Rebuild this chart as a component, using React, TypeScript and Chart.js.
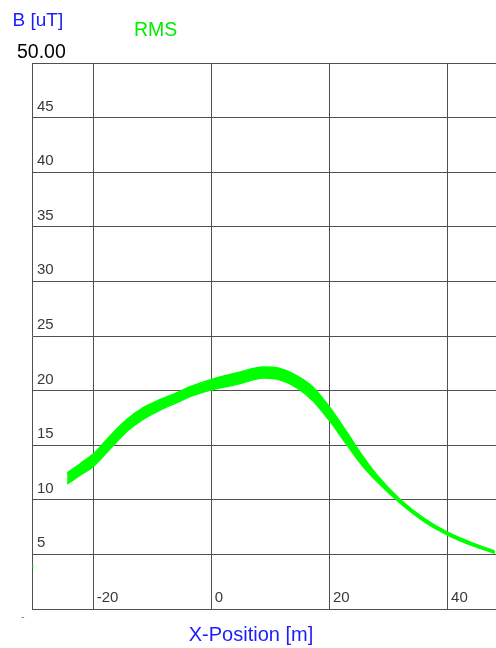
import React, { useEffect, useRef } from 'react';
import { Chart, registerables } from 'chart.js';

Chart.register(...registerables);

// X positions [m] sampled along the RMS band
const X_POS = [-24.4, -22.2, -20, -17.15, -14.3, -11.5, -8.6, -5.8, -3.6, -0.2, 4.4, 8.9, 11.6, 14.5, 17.2, 20.1, 22.9, 25.7, 28.0, 31.9, 35.9, 40.0, 44.3, 48.0];
// Upper and lower edge of the RMS band [uT]
const RMS_UPPER = [12.45, 13.3, 14.18, 15.85, 17.35, 18.43, 19.18, 19.8, 20.35, 20.98, 21.63, 22.15, 22.03, 21.35, 20.33, 18.43, 16.23, 13.95, 12.3, 10.08, 8.35, 7.03, 6.03, 5.3];
const RMS_LOWER = [11.45, 12.25, 13.03, 14.65, 16.25, 17.38, 18.23, 18.9, 19.45, 20.03, 20.58, 21.15, 20.98, 20.25, 19.08, 17.18, 15.08, 13.05, 11.7, 9.73, 8.05, 6.78, 5.78, 5.1];
// A lone stray sample at the left edge
const STRAY_X = [-30.3];
const STRAY_Y = [3.9];

const X_TICKS = [-20, 0, 20, 40];
const Y_TICKS = [0, 5, 10, 15, 20, 25, 30, 35, 40, 45, 50];
const Y_LABELS = [5, 10, 15, 20, 25, 30, 35, 40, 45];

const X_MIN = -30.35;
const X_MAX = 48.2;
const Y_MIN = 0;
const Y_MAX = 50;

const FONT = '"Liberation Sans", Arial, sans-serif';

const textPlugin = {
  id: 'textPlugin',
  afterDraw(chart: any) {
    const ctx = chart.ctx;
    const area = chart.chartArea;
    const xs = chart.scales.x;
    const ys = chart.scales.y;
    ctx.save();
    ctx.textBaseline = 'alphabetic';
    ctx.textAlign = 'left';
    ctx.fillStyle = '#3a3a3a';
    ctx.font = '15px ' + FONT;
    ys.ticks.forEach((t: any) => {
      if (Y_LABELS.includes(t.value)) {
        ctx.fillText(String(t.value), area.left + 5, ys.getPixelForValue(t.value) - 7);
      }
    });
    xs.ticks.forEach((t: any) => {
      ctx.fillText(String(t.value), xs.getPixelForValue(t.value) + 3.5, area.bottom - 7);
    });
    // small dash below the axis
    ctx.fillStyle = '#777';
    ctx.font = '11px ' + FONT;
    ctx.fillText('-', area.left - 11, area.bottom + 11);

    ctx.fillStyle = '#000';
    ctx.font = '19.5px ' + FONT;
    ctx.fillText('50.00', 17, 57.5);

    ctx.fillStyle = '#1c1cff';
    ctx.font = '19px ' + FONT;
    ctx.fillText('B [uT]', 12.5, 26);

    ctx.fillStyle = '#00ee00';
    ctx.font = '19.5px ' + FONT;
    ctx.fillText('RMS', 134, 36);

    ctx.fillStyle = '#1c1cff';
    ctx.font = '20px ' + FONT;
    ctx.textAlign = 'center';
    ctx.fillText('X-Position [m]', 251, 641);
    ctx.restore();
  },
};

export default function App() {
  const canvasRef = useRef<HTMLCanvasElement | null>(null);

  useEffect(() => {
    const canvas = canvasRef.current;
    if (!canvas) return;
    const green = '#00ff00';
    const chart = new Chart(canvas, {
      type: 'line',
      data: {
        datasets: [
          {
            data: X_POS.map((x, i) => ({ x, y: RMS_UPPER[i] })),
            borderColor: green,
            backgroundColor: green,
            borderWidth: 1.5,
            pointRadius: 0,
            fill: false,
            cubicInterpolationMode: 'monotone',
          },
          {
            data: X_POS.map((x, i) => ({ x, y: RMS_LOWER[i] })),
            borderColor: green,
            backgroundColor: green,
            borderWidth: 1.5,
            pointRadius: 0,
            fill: '-1',
            cubicInterpolationMode: 'monotone',
          },
          {
            data: STRAY_X.map((x, i) => ({ x, y: STRAY_Y[i] })),
            showLine: false,
            pointRadius: 1.2,
            pointBorderWidth: 0,
            backgroundColor: '#00d000',
            borderColor: '#00d000',
            fill: false,
          },
        ],
      } as any,
      options: {
        responsive: false,
        animation: false,
        layout: { autoPadding: false, padding: { left: 32, top: 63, right: 0, bottom: 39 } },
        plugins: { legend: { display: false }, tooltip: { enabled: false } },
        scales: {
          x: {
            type: 'linear',
            min: X_MIN,
            max: X_MAX,
            afterBuildTicks: (scale: any) => {
              scale.ticks = X_TICKS.map((v) => ({ value: v }));
            },
            ticks: { display: false },
            grid: { color: '#505050', lineWidth: 1, drawTicks: false },
            border: { display: true, color: '#505050', width: 1 },
          },
          y: {
            type: 'linear',
            min: Y_MIN,
            max: Y_MAX,
            afterBuildTicks: (scale: any) => {
              scale.ticks = Y_TICKS.map((v) => ({ value: v }));
            },
            ticks: { display: false },
            grid: { color: '#505050', lineWidth: 1, drawTicks: false },
            border: { display: true, color: '#505050', width: 1 },
          },
        },
      } as any,
      plugins: [textPlugin],
    });
    return () => chart.destroy();
  }, []);

  return (
    <div style={{ position: 'fixed', left: 0, top: 0, width: 496, height: 648, background: '#fff' }}>
      <canvas ref={canvasRef} width={496} height={648} style={{ display: 'block' }} />
    </div>
  );
}
